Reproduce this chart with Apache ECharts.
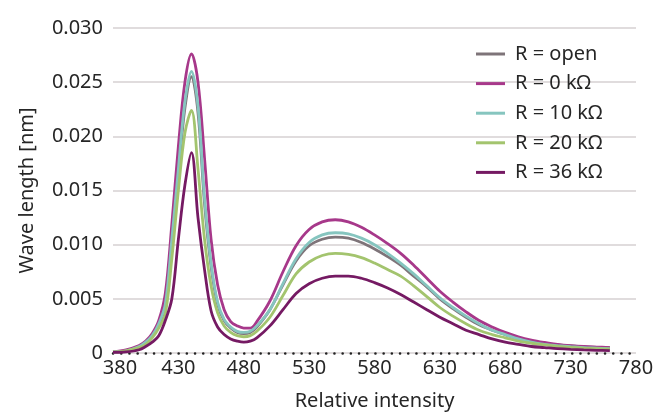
<!DOCTYPE html>
<html>
<head>
<meta charset="utf-8">
<script src="https://cdn.jsdelivr.net/npm/echarts@6/dist/echarts.min.js"></script>
<style>
  html, body { margin: 0; padding: 0; background: #fff; }
  #chart { width: 666px; height: 416px; }
</style>
</head>
<body>
<div id="chart"></div>
<script>
// wavelength samples (nm)
const wavelengths = [380, 390, 400, 405, 410, 415, 420, 425, 430, 435, 440, 445, 450, 455, 460, 465, 470, 475, 480, 485, 490,
  500, 510, 520, 530, 540, 550, 560, 570, 580, 590, 600, 610, 620, 630, 640, 650, 660, 670, 680, 690, 700, 710, 720, 730, 740, 750, 760]

const rOpen = [0.0001, 0.0002, 0.0006, 0.0010, 0.0016, 0.0026, 0.0044, 0.0101, 0.0165, 0.0226, 0.0255, 0.0222, 0.0138, 0.0080, 0.0045, 0.0030, 0.0023, 0.0019, 0.0018, 0.0019, 0.0024,
  0.0040, 0.0063, 0.0085, 0.0099, 0.0105, 0.0107, 0.0106, 0.0102, 0.0096, 0.0089, 0.0081, 0.0071, 0.0061, 0.0050, 0.0041, 0.0033, 0.0026, 0.0021, 0.0017, 0.0013, 0.0011, 0.0009, 0.00075, 0.00065, 0.00058, 0.00052, 0.0005]
const r0 = [0.0001, 0.0003, 0.0007, 0.0011, 0.0018, 0.0030, 0.0055, 0.0119, 0.0191, 0.0250, 0.0276, 0.0250, 0.0180, 0.0105, 0.0063, 0.0040, 0.0029, 0.0025, 0.0023, 0.0023, 0.0029,
  0.0048, 0.0075, 0.0099, 0.0114, 0.0121, 0.0123, 0.0121, 0.0116, 0.0109, 0.0101, 0.0092, 0.0081, 0.0069, 0.0057, 0.0047, 0.0038, 0.0030, 0.0024, 0.0019, 0.0015, 0.0012, 0.00098, 0.0008, 0.00068, 0.0006, 0.00055, 0.0005]
const r10 = [0.0001, 0.0002, 0.0006, 0.0010, 0.0016, 0.0027, 0.0045, 0.0105, 0.0170, 0.0232, 0.0260, 0.0228, 0.0143, 0.0083, 0.0047, 0.0031, 0.0024, 0.0020, 0.0019, 0.0020, 0.0025,
  0.0040, 0.0064, 0.0087, 0.0102, 0.0109, 0.0111, 0.0110, 0.0106, 0.0100, 0.0092, 0.0083, 0.0073, 0.0062, 0.0051, 0.0042, 0.0034, 0.0027, 0.0021, 0.0017, 0.0013, 0.0010, 0.0008, 0.00068, 0.00058, 0.0005, 0.00045, 0.0004]
const r20 = [0.0001, 0.0002, 0.0005, 0.0008, 0.0014, 0.0023, 0.0036, 0.0087, 0.0150, 0.0203, 0.0224, 0.0170, 0.0105, 0.0062, 0.0037, 0.0025, 0.0019, 0.0016, 0.0015, 0.0016, 0.0020,
  0.0033, 0.0053, 0.0073, 0.0084, 0.0090, 0.0092, 0.0091, 0.0088, 0.0083, 0.0077, 0.0071, 0.0062, 0.0052, 0.0042, 0.0034, 0.0027, 0.0021, 0.0017, 0.0014, 0.0011, 0.0009, 0.00075, 0.00062, 0.00052, 0.00045, 0.0004, 0.00035]
const r36 = [0.00005, 0.0001, 0.0003, 0.0006, 0.0010, 0.0016, 0.0030, 0.0050, 0.0105, 0.0155, 0.0185, 0.0125, 0.0077, 0.0039, 0.0024, 0.0017, 0.0013, 0.0011, 0.0010, 0.0011, 0.0014,
  0.0025, 0.0040, 0.0055, 0.0064, 0.0069, 0.0071, 0.0071, 0.0069, 0.0065, 0.0060, 0.0054, 0.0047, 0.0040, 0.0033, 0.0027, 0.0021, 0.0017, 0.0013, 0.0010, 0.0008, 0.0006, 0.0005, 0.0004, 0.00033, 0.00028, 0.00025, 0.00022]

const seriesNames = ['R = open', 'R = 0 kΩ', 'R = 10 kΩ', 'R = 20 kΩ', 'R = 36 kΩ']
const seriesValues = [rOpen, r0, r10, r20, r36]
const colors = ['#7e7479', '#a7388a', '#86c5bf', '#a3c46e', '#751a63']

const font = '"Noto Sans", sans-serif'
const textColor = '#262626'

const chart = echarts.init(document.getElementById('chart'))

const series = seriesNames.map((name, i) => ({
  name,
  type: 'line',
  showSymbol: false,
  smooth: 0.35,
  lineStyle: { width: 2.8, color: colors[i] },
  itemStyle: { color: colors[i] },
  data: wavelengths.map((w, j) => [w, seriesValues[i][j]]),
}))

chart.setOption({
  animation: false,
  textStyle: { fontFamily: font },
  grid: { left: 113, right: 30, top: 28, bottom: 62 },
  legend: {
    orient: 'vertical',
    left: 476,
    top: 44,
    padding: 0,
    icon: 'rect',
    itemWidth: 29,
    itemHeight: 3,
    itemGap: 9.6,
    textStyle: { fontFamily: font, fontSize: 20, color: textColor, lineHeight: 20, padding: [0, 0, 0, 5] },
    data: seriesNames,
  },
  xAxis: {
    type: 'value',
    min: 380,
    max: 780,
    interval: 50,
    name: 'Relative intensity',
    nameLocation: 'middle',
    nameGap: 38,
    nameTextStyle: { fontFamily: font, fontSize: 20, color: textColor },
    axisLine: { show: true, onZero: false, lineStyle: { color: '#222', width: 2.5, type: [0.1, 8.1], cap: 'round' } },
    axisTick: { show: false },
    splitLine: { show: false },
    axisLabel: {
      margin: 5,
      fontFamily: font,
      fontSize: 20,
      color: textColor,
      formatter: v => (v === 380 ? '{first|' + v + '}' : String(v)),
      rich: { first: { fontFamily: font, fontSize: 20, color: textColor, padding: [0, 0, 0, 14] } },
    },
  },
  yAxis: {
    type: 'value',
    min: 0,
    max: 0.03,
    interval: 0.005,
    name: 'Wave length [nm]',
    nameLocation: 'middle',
    nameGap: 76,
    nameTextStyle: { fontFamily: font, fontSize: 20, color: textColor },
    axisLine: { show: false },
    axisTick: { show: false },
    splitLine: { lineStyle: { color: '#e0dcdd', width: 2 } },
    axisLabel: {
      margin: 10,
      fontFamily: font,
      fontSize: 20,
      color: textColor,
      formatter: v => (v === 0 ? '0' : v.toFixed(3)),
    },
  },
  series,
})
</script>
</body>
</html>
